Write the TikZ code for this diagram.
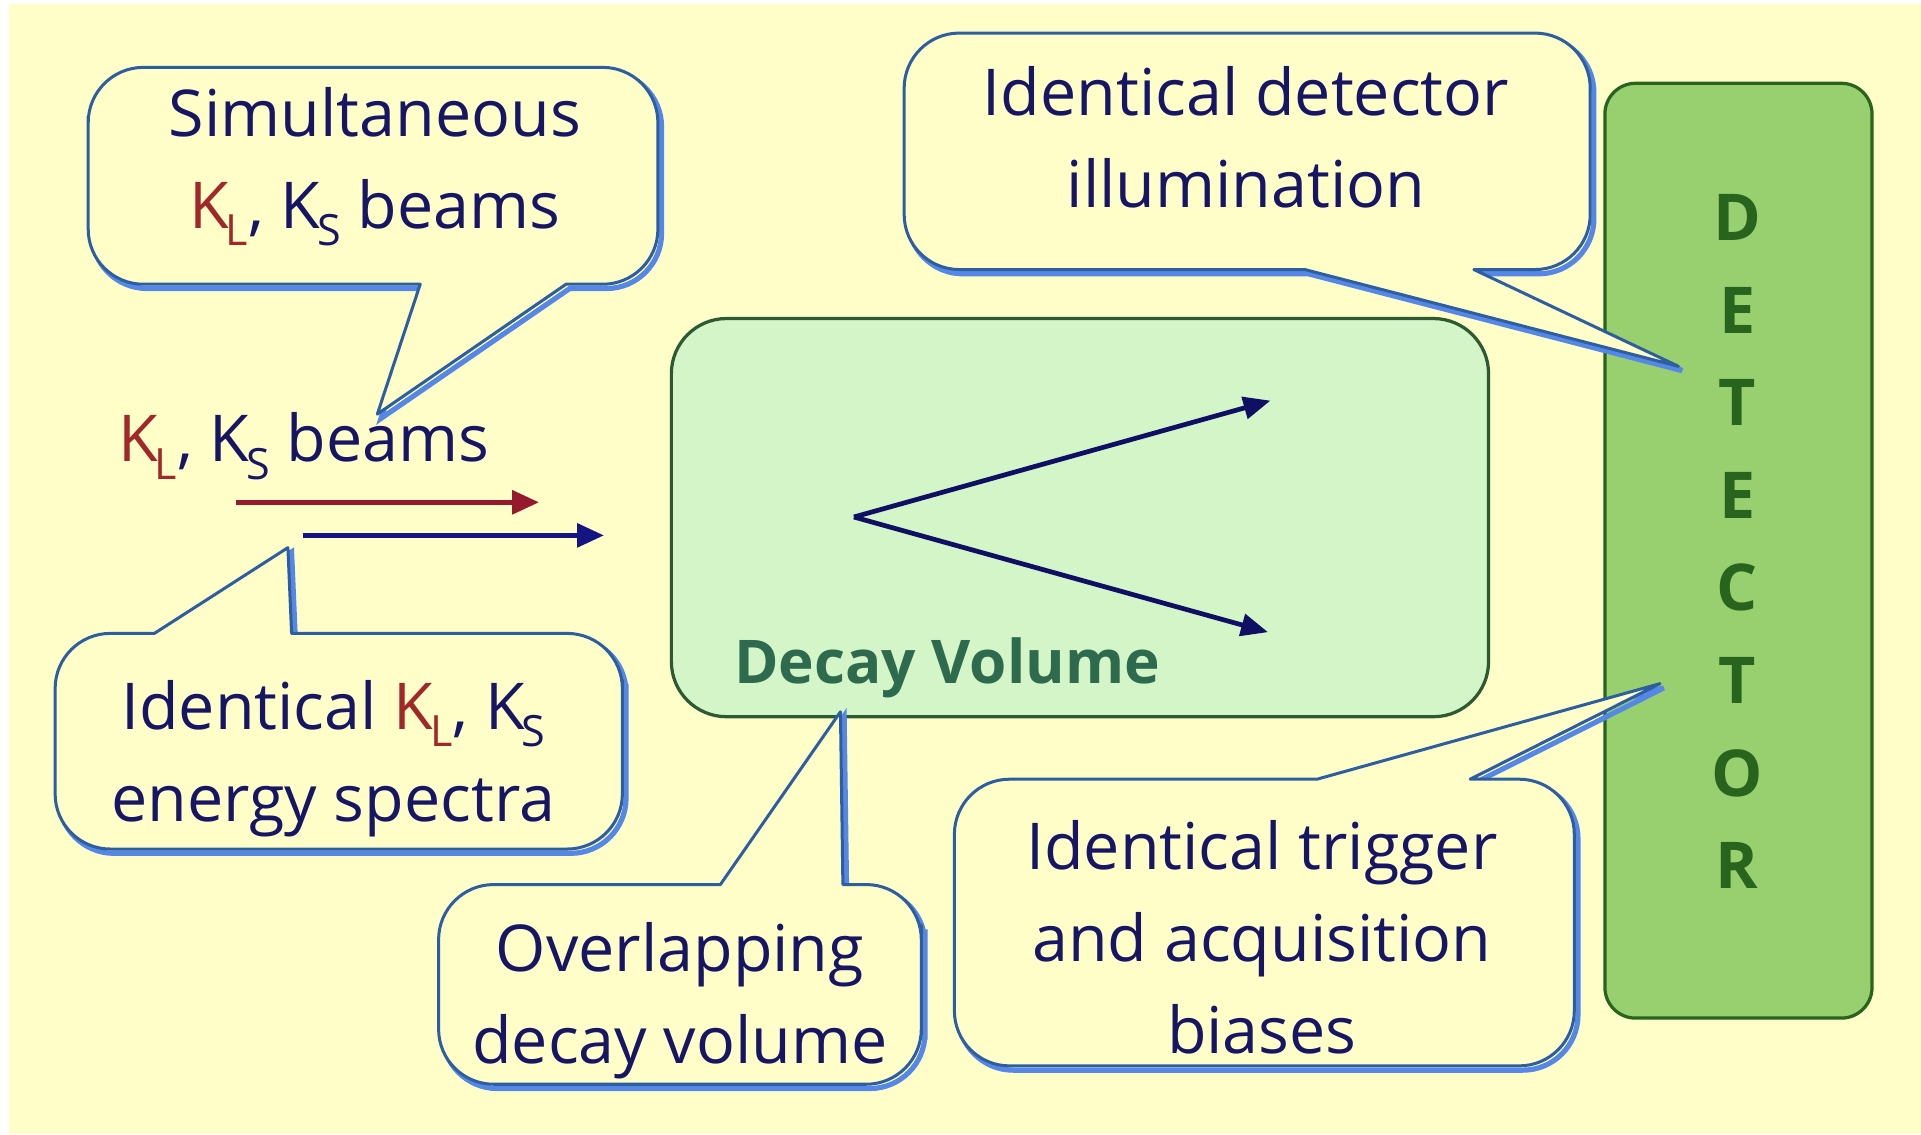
\documentclass[tikz,border=0pt]{standalone}
\usepackage{fontspec}
\setmainfont{Open Sans}
\usetikzlibrary{arrows.meta}

\definecolor{bgyellow}{RGB}{255,253,200}
\definecolor{navytext}{RGB}{22,22,100}
\definecolor{kred}{RGB}{160,40,40}
\definecolor{calloutline}{RGB}{45,95,160}
\definecolor{calloutshadow}{RGB}{85,135,230}
\definecolor{decayfill}{RGB}{212,245,200}
\definecolor{decayline}{RGB}{45,90,50}
\definecolor{decaytext}{RGB}{46,107,78}
\definecolor{detfill}{RGB}{152,208,112}
\definecolor{detline}{RGB}{40,100,30}
\definecolor{beamred}{RGB}{150,25,45}
\definecolor{beamblue}{RGB}{20,20,130}
\definecolor{trackblue}{RGB}{15,15,100}

% kaon symbols with lowered subscripts
\newcommand\KL{\textcolor{kred}{K\kern-0.05em\raisebox{-0.27em}{\fontsize{20}{20}\selectfont L}}}
\newcommand\KS{K\kern-0.05em\raisebox{-0.27em}{\fontsize{20}{20}\selectfont S}}

\begin{document}
\begin{tikzpicture}[x=0.2mm,y=-0.2mm,
  callout/.style={draw=calloutline, line width=1.4pt, fill=bgyellow, line join=round,
    preaction={draw=calloutshadow, line width=2.4pt,
      transform canvas={shift={(0.6mm,-0.7mm)}}}},
  txt/.style={text=navytext, align=center, inner sep=0pt,
    font=\fontsize{30}{42.7}\selectfont},
  decaybox/.style={draw=decayline, line width=1.5pt, fill=decayfill,
    rounded corners=9mm, inner sep=0pt},
  detbox/.style={draw=detline, line width=1.5pt, fill=detfill,
    rounded corners=5mm, inner sep=0pt},
  beam/.style={line width=2.4pt, -{Triangle[length=4.4mm,width=3.8mm]}},
  track/.style={draw=trackblue, line width=2.2pt, -{Triangle[length=4.4mm,width=3.6mm]}}
]
\useasboundingbox (0,0) rectangle (1568,926);
\fill[white] (0,0) rectangle (1568,926);
\fill[bgyellow] (7,3) rectangle (1568,926);

% decay volume and detector
\node[decaybox, minimum width=133.4mm, minimum height=65mm] (decay) at (881.5,422.5) {};
\node[detbox, minimum width=43.6mm, minimum height=152.6mm] (det) at (1419,449.5) {};

% callout: simultaneous beams
\draw[callout] (72,140) [rounded corners=9mm] -- (72,55) -- (537,55) -- (537,232)
  [sharp corners] -- (462,232) -- (308,338) -- (343,232)
  [rounded corners=9mm] -- (72,232) -- cycle;
% callout: energy spectra
\draw[callout] (508,600) [rounded corners=9mm] -- (508,693) -- (45,693) -- (45,517)
  [sharp corners] -- (126,517) -- (235,447) -- (238,517)
  [rounded corners=9mm] -- (508,517) -- cycle;
% callout: overlapping decay volume
\draw[callout] (752,800) [rounded corners=9mm] -- (752,885) -- (358,885) -- (358,722)
  [sharp corners] -- (588,722) -- (686,581) -- (688,722)
  [rounded corners=9mm] -- (752,722) -- cycle;
% callout: detector illumination
\draw[callout] (738,120) [rounded corners=9mm] -- (738,27) -- (1298,27) -- (1298,220)
  [sharp corners] -- (1203,220) -- (1370,299) -- (1065,220)
  [rounded corners=9mm] -- (738,220) -- cycle;
% callout: trigger and acquisition
\draw[callout] (779,750) [rounded corners=9mm] -- (779,636)
  [sharp corners] -- (1075,636) -- (1355,558) -- (1200,636)
  [rounded corners=9mm] -- (1285,636) -- (1285,870) -- (779,870) -- cycle;

% texts
\node[txt] (simul) at (306,136) {Simultaneous\\\KL, \KS\ beams};
\node[txt] (beams) at (248,364) {\KL, \KS\ beams};
\node[txt] (spectra) at (272,619) {Identical \KL, \KS\\energy spectra};
\node[txt] (overlap) at (555,817) {Overlapping\\decay volume};
\node[txt] (illum) at (1017,112) {Identical detector\\illumination};
\node[txt] (trigger) at (1030,765) {Identical trigger\\and acquisition\\biases};
\node[text=decaytext, inner sep=0pt, font=\fontsize{28}{30}\selectfont\bfseries]
  (decaylabel) at (773,545) {Decay Volume};
\node[text=detline, align=center, inner sep=0pt,
  font=\fontsize{30}{43}\selectfont\bfseries] (detlabel) at (1418,442)
  {D\\E\\T\\E\\C\\T\\O\\R};

% incoming beams
\coordinate (redstart) at (193,410);
\coordinate (redend) at (440,410);
\coordinate (bluestart) at (247,437);
\coordinate (blueend) at (493,437);
\draw[beam, beamred] (redstart) -- (redend);
\draw[beam, beamblue] (bluestart) -- (blueend);

% decay products
\coordinate (vtx) at (697,422);
\coordinate (trk1) at (1037,327);
\coordinate (trk2) at (1035,516);
\draw[track] (vtx) -- (trk1);
\draw[track] (vtx) -- (trk2);
\end{tikzpicture}
\end{document}
